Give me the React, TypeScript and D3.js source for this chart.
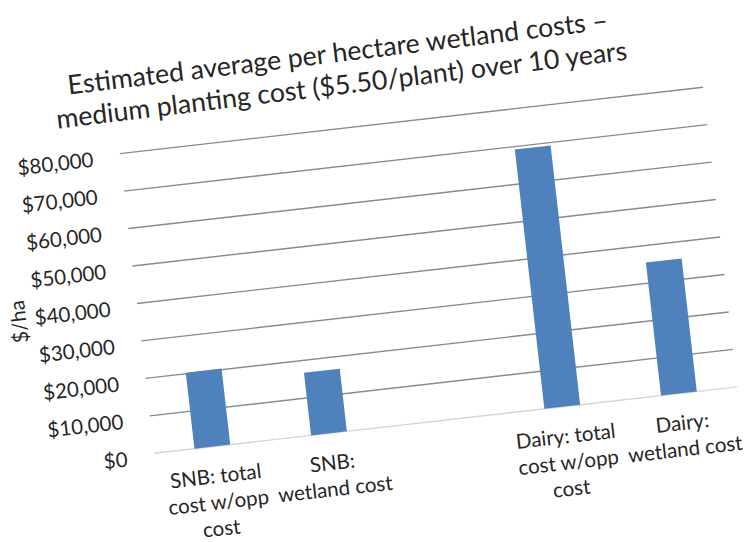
import React, { useLayoutEffect, useRef, useState } from "react";
import * as d3 from "d3";

// ---- data ----
const categories = [
  "SNB: total cost w/opp cost",
  "SNB: wetland cost",
  "",
  "Dairy: total cost w/opp cost",
  "Dairy: wetland cost",
];
const categoryLines = [
  ["SNB: total", "cost w/opp", "cost"],
  ["SNB:", "wetland cost"],
  [],
  ["Dairy: total", "cost w/opp", "cost"],
  ["Dairy:", "wetland cost"],
];
const values: (number | null)[] = [20300, 16700, null, 69200, 35500];
const tickValues = [0, 10000, 20000, 30000, 40000, 50000, 60000, 70000, 80000];
const titleLines = [
  "Estimated average per hectare wetland costs \u2013",
  "medium planting cost ($5.50/plant) over 10 years",
];
const yAxisTitle = "$/ha";

// ---- layout ----
const W = 756;
const H = 542;
const ORIGIN_X = 154;
const ORIGIN_Y = 453.3;
const ANGLE = -6.5;
const PLOT_W = 587;
const PLOT_H = 301.6;
const BAR_W = 36;
const FONT = "Lato, 'Open Sans', 'DejaVu Sans', sans-serif";
const TEXT_COLOR = "#262626";

export default function App() {
  const axisRef = useRef<SVGTextElement>(null);
  const titleRef = useRef<SVGTextElement>(null);
  const [fit, setFit] = useState<{ axis: number; title: number } | null>(null);

  useLayoutEffect(() => {
    if (fit) return;
    const a = axisRef.current;
    const t = titleRef.current;
    let axis = 19.5;
    let title = 25;
    if (a) {
      const l = a.getComputedTextLength();
      if (l > 0) axis = (20 * 115) / l;
    }
    if (t) {
      const l = t.getComputedTextLength();
      if (l > 0) title = (25 * 575) / l;
    }
    setFit({ axis, title });
  }, [fit]);

  const x = d3.scaleBand<string>().domain(categories.map((c, i) => i + ":" + c)).range([0, PLOT_W]).padding(0);
  const y = d3.scaleLinear().domain([0, 80000]).range([0, -PLOT_H]);
  const keys = categories.map((c, i) => i + ":" + c);

  const axisFs = fit ? fit.axis : 19.5;
  const titleFs = fit ? fit.title : 25;

  return (
    <svg
      width={W}
      height={H}
      style={{ position: "absolute", left: 0, top: 0, background: "#fff" }}
      fontFamily={FONT}
    >
      <rect x={0} y={0} width={W} height={H} fill="#fff" />
      {!fit && (
        <g opacity={0}>
          <text ref={axisRef} fontSize={20} x={0} y={-100}>wetland cost</text>
          <text ref={titleRef} fontSize={25} x={0} y={-100}>{titleLines[1]}</text>
        </g>
      )}
      <g transform={`translate(${ORIGIN_X},${ORIGIN_Y}) rotate(${ANGLE})`}>
        {/* title */}
        <g transform="rotate(-0.4, 228, -350)">
          {titleLines.map((t, i) => (
            <text
              key={i}
              x={228}
              y={-368 + i * 32.5}
              textAnchor="middle"
              fontSize={titleFs}
              fill={TEXT_COLOR}
            >
              {t}
            </text>
          ))}
        </g>
        {/* gridlines */}
        {tickValues.map((v) => (
          <line
            key={"g" + v}
            x1={0}
            x2={PLOT_W}
            y1={y(v)}
            y2={y(v)}
            stroke={v === 0 ? "#d6d6d6" : "#8a8a8a"}
            strokeWidth={1.4}
          />
        ))}
        {/* tick labels */}
        {tickValues.map((v) => (
          <text
            key={"t" + v}
            x={-27}
            y={y(v) + 2}
            textAnchor="end"
            dominantBaseline="central"
            fontSize={axisFs}
            fill={TEXT_COLOR}
          >
            {d3.format("$,")(v)}
          </text>
        ))}
        {/* axis title */}
        <text
          transform={`translate(-120,-146) rotate(-90)`}
          textAnchor="middle"
          dominantBaseline="central"
          fontSize={axisFs}
          fill={TEXT_COLOR}
        >
          {yAxisTitle}
        </text>
        {/* bars */}
        {values.map((v, i) =>
          v == null ? null : (
            <rect
              key={"b" + i}
              x={(x(keys[i]) ?? 0) + (x.bandwidth() - BAR_W) / 2}
              y={y(v)}
              width={BAR_W}
              height={y(0) - y(v)}
              fill="#4F81BD"
            />
          )
        )}
        {/* category labels */}
        {categoryLines.map((lines, i) => (
          <text
            key={"c" + i}
            textAnchor="middle"
            fontSize={axisFs}
            fill={TEXT_COLOR}
          >
            {lines.map((ln, j) => (
              <tspan key={j} x={(x(keys[i]) ?? 0) + x.bandwidth() / 2} y={36.8 + j * 26.3}>
                {ln}
              </tspan>
            ))}
          </text>
        ))}
      </g>
    </svg>
  );
}
